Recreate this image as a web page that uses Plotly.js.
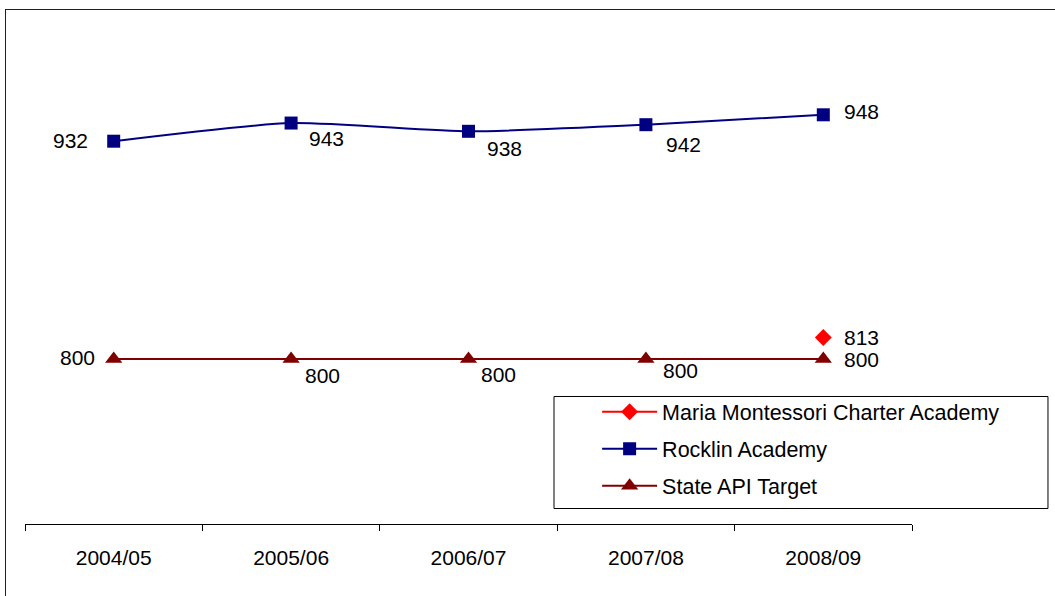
<!DOCTYPE html>
<html>
<head>
<meta charset="utf-8">
<script src="https://cdn.plot.ly/plotly-3.0.1.min.js"></script>
<style>
  html, body { margin: 0; padding: 0; background: #fff; overflow: hidden; }
  #chart { position: absolute; left: 0; top: 0; width: 1055px; height: 596px; }
  #frame { position: absolute; left: 5px; top: 9px; width: 1200px; height: 800px;
           border-left: 1px solid #222; border-top: 1px solid #222; pointer-events: none; }
</style>
</head>
<body>
<div id="chart"></div>
<div id="frame"></div>
<script>
// ---- data ----
const years = ["2004/05", "2005/06", "2006/07", "2007/08", "2008/09"];
const montessori = [null, null, null, null, 813];
const rocklin = [932, 943, 938, 942, 948];
const stateTarget = [800, 800, 800, 800, 800];
const seriesNames = ["Maria Montessori Charter Academy", "Rocklin Academy", "State API Target"];

// ---- label placement (style only) ----
// [xanchor, xshift px, yshift px (positive = down)]
const placeRocklin = [["right", -24, -1], ["left", 16, 15], ["left", 16, 17], ["left", 18, 20], ["left", 19, -3]];
const placeState   = [["right", -17, -2], ["left", 12, 16], ["left", 10, 15], ["left", 15, 11], ["left", 19, 0]];
const placeMont    = [null, null, null, null, ["left", 19, 0]];

const font = "Liberation Sans, Arial, sans-serif";
const FS = 21;

function labels(values, place) {
  const out = [];
  values.forEach((v, i) => {
    if (v === null || !place[i]) return;
    out.push({
      x: years[i], y: v, xref: "x", yref: "y", text: String(v), showarrow: false,
      xanchor: place[i][0], yanchor: "middle", xshift: place[i][1], yshift: -place[i][2],
      font: { family: font, size: FS, color: "#000" }
    });
  });
  return out;
}

const traces = [
  {
    x: years, y: montessori, name: seriesNames[0], type: "scatter", mode: "lines+markers",
    line: { color: "#FF0000", width: 2 },
    marker: { symbol: "diamond", color: "#FF0000", size: 13 },
    legendgroup: "a", cliponaxis: false
  },
  {
    x: years, y: rocklin, name: seriesNames[1], type: "scatter", mode: "lines+markers",
    line: { color: "#000080", width: 2, shape: "spline", smoothing: 0.6 },
    marker: { symbol: "square", color: "#000080", size: 13 },
    legendgroup: "b", cliponaxis: false
  },
  {
    x: years, y: stateTarget, name: seriesNames[2], type: "scatter", mode: "lines+markers",
    line: { color: "#800000", width: 2 },
    marker: { symbol: "triangle-up", color: "#800000", size: 15 },
    legendgroup: "c", cliponaxis: false
  }
];

const layout = {
  width: 1055, height: 596,
  margin: { l: 25, r: 143, t: 29, b: 72 },
  paper_bgcolor: "rgba(0,0,0,0)", plot_bgcolor: "rgba(0,0,0,0)",
  font: { family: font, size: FS, color: "#000" },
  showlegend: true,
  legend: {
    x: 0.645, y: 0.268, xanchor: "left", yanchor: "top",
    bgcolor: "rgba(0,0,0,0)", borderwidth: 0,
    font: { family: font, size: 21.5, color: "#000" },
    traceorder: "grouped", tracegroupgap: 6, itemwidth: 55
  },
  xaxis: {
    type: "category", range: [-0.5, 4.5],
    showline: true, linecolor: "#000", linewidth: 1,
    ticks: "outside", tickson: "boundaries", ticklen: 6, tickcolor: "#000",
    showgrid: false, zeroline: false, fixedrange: true,
    tickfont: { family: font, size: FS, color: "#000" },
    ticklabelstandoff: 15
  },
  yaxis: {
    range: [700, 1000], visible: false, showgrid: false, zeroline: false, fixedrange: true
  },
  annotations: [].concat(labels(rocklin, placeRocklin), labels(stateTarget, placeState), labels(montessori, placeMont)),
  shapes: [
    { type: "rect", xref: "paper", yref: "paper", x0: 0.5964, x1: 1.1533, y0: 0.0313, y1: 0.2576,
      line: { color: "#000", width: 1 }, fillcolor: "rgba(255,255,255,1)", layer: "below" }
  ]
};

Plotly.newPlot("chart", traces, layout, { displayModeBar: false, staticPlot: true });
</script>
</body>
</html>
